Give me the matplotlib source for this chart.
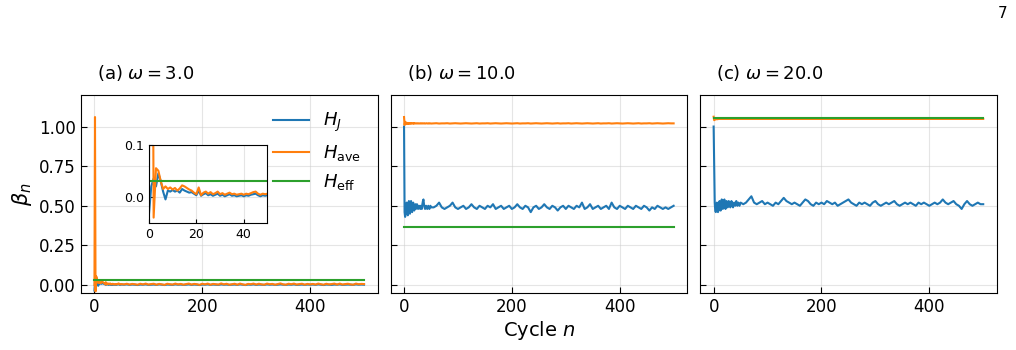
import numpy as np
import matplotlib.pyplot as plt

# cycle index: every cycle up to 50, then every 5th cycle
cycles = list(range(0, 51)) + list(range(55, 501, 5))

# (a) omega = 3.0
hj_a = [-0.035, 0.02, 0.035, 0.02, 0.045, 0.03, 0.01, -0.005, 0.012, 0.01,
        0.013, 0.01, 0.012, 0.008, 0.015, 0.012, 0.01, 0.008, 0.009, 0.006,
        0.003, 0.012, 0.002, 0.005, 0.007, 0.003, 0.005, 0.002, 0.004, 0.006,
        0.002, 0.004, 0.001, 0.003, 0.005, 0.002, 0.003, 0.001, 0.002, 0.003,
        0.001, 0.003, 0.002, 0.004, 0.005, 0.006, 0.003, 0.001, 0.003, 0.002,
        0.003,
        0.002, 0.004, 0.001, 0.003, 0.002, 0.000, 0.003, 0.002, 0.004, 0.001,
        0.002, 0.003, 0.001, 0.004, 0.002, 0.000, 0.003, 0.002, 0.001, 0.004,
        0.002, 0.003, 0.001, 0.002, 0.004, 0.001, 0.003, 0.002, 0.000, 0.003,
        0.002, 0.004, 0.001, 0.003, 0.002, 0.001, 0.004, 0.002, 0.003, 0.001,
        0.002, 0.003, 0.001, 0.004, 0.002, 0.000, 0.003, 0.002, 0.004, 0.001,
        0.003, 0.002, 0.001, 0.004, 0.002, 0.003, 0.001, 0.002, 0.004, 0.002,
        0.001, 0.003, 0.002, 0.004, 0.001, 0.002, 0.003, 0.001, 0.003, 0.002,
        0.003, 0.001, 0.004, 0.002, 0.000, 0.003, 0.002, 0.001, 0.003, 0.002,
        0.004, 0.001, 0.002, 0.003, 0.002, 0.001, 0.004, 0.002, 0.003, 0.002]
have_a = [0.0, 1.06, -0.04, 0.055, 0.05, 0.03, 0.015, 0.02, 0.015, 0.018,
          0.014, 0.017, 0.012, 0.016, 0.022, 0.02, 0.017, 0.014, 0.012, 0.008,
          0.005, 0.018, 0.003, 0.008, 0.01, 0.006, 0.009, 0.005, 0.007, 0.01,
          0.005, 0.007, 0.004, 0.006, 0.008, 0.005, 0.006, 0.004, 0.005, 0.006,
          0.004, 0.006, 0.005, 0.007, 0.009, 0.01, 0.006, 0.004, 0.006, 0.005,
          0.006,
          0.004, 0.008, 0.003, 0.007, 0.005, 0.002, 0.008, 0.004, 0.009, 0.003,
          0.006, 0.008, 0.002, 0.007, 0.004, 0.001, 0.008, 0.005, 0.003, 0.009,
          0.004, 0.007, 0.002, 0.006, 0.009, 0.003, 0.007, 0.005, 0.001, 0.008,
          0.004, 0.009, 0.002, 0.007, 0.005, 0.003, 0.010, 0.004, 0.008, 0.002,
          0.005, 0.008, 0.002, 0.009, 0.004, 0.001, 0.007, 0.005, 0.009, 0.003,
          0.008, 0.004, 0.002, 0.009, 0.005, 0.007, 0.002, 0.006, 0.010, 0.004,
          0.002, 0.008, 0.005, 0.009, 0.003, 0.006, 0.008, 0.002, 0.007, 0.004,
          0.007, 0.003, 0.009, 0.005, 0.002, 0.008, 0.004, 0.006, 0.009, 0.003,
          0.009, 0.003, 0.006, 0.008, 0.004, 0.002, 0.009, 0.005, 0.007, 0.006]
heff_a = 0.03

# (b) omega = 10.0
hj_b = [1.00, 0.46, 0.43, 0.45, 0.50, 0.52, 0.46, 0.44, 0.49, 0.53,
        0.48, 0.45, 0.50, 0.53, 0.49, 0.46, 0.50, 0.52, 0.48, 0.47,
        0.50, 0.51, 0.48, 0.49, 0.51, 0.50, 0.48, 0.49, 0.50, 0.49,
        0.48, 0.50, 0.49, 0.48, 0.51, 0.53, 0.54, 0.51, 0.49, 0.48,
        0.49, 0.50, 0.49, 0.48, 0.49, 0.50, 0.49, 0.48, 0.49, 0.50,
        0.49,
        0.49, 0.50, 0.52, 0.49, 0.48, 0.49, 0.50, 0.52, 0.49, 0.48,
        0.49, 0.50, 0.48, 0.49, 0.51, 0.49, 0.48, 0.50, 0.49, 0.48,
        0.50, 0.49, 0.51, 0.48, 0.49, 0.50, 0.48, 0.49, 0.50, 0.48,
        0.49, 0.51, 0.49, 0.48, 0.50, 0.49, 0.46, 0.49, 0.50, 0.48,
        0.49, 0.51, 0.49, 0.48, 0.50, 0.49, 0.47, 0.49, 0.50, 0.48,
        0.50, 0.49, 0.48, 0.50, 0.49, 0.52, 0.48, 0.49, 0.51, 0.48,
        0.49, 0.50, 0.48, 0.49, 0.50, 0.48, 0.52, 0.49, 0.48, 0.50,
        0.49, 0.48, 0.50, 0.49, 0.48, 0.50, 0.49, 0.48, 0.50, 0.49,
        0.47, 0.49, 0.48, 0.50, 0.49, 0.48, 0.49, 0.48, 0.49, 0.50]
have_b = [1.06, 1.01, 1.03, 1.015, 1.025, 1.02, 1.018, 1.023, 1.017, 1.022,
          1.019, 1.021, 1.018, 1.022, 1.019, 1.021, 1.02, 1.018, 1.022, 1.019,
          1.021, 1.02, 1.019, 1.021, 1.02, 1.019, 1.021, 1.02, 1.019, 1.02,
          1.021, 1.019, 1.02, 1.021, 1.019, 1.02, 1.02, 1.019, 1.021, 1.02,
          1.019, 1.02, 1.021, 1.02, 1.019, 1.02, 1.021, 1.019, 1.02, 1.02,
          1.019,
          1.02, 1.021, 1.019, 1.02, 1.02, 1.021, 1.019, 1.02, 1.021, 1.02,
          1.019, 1.02, 1.021, 1.02, 1.019, 1.02, 1.021, 1.019, 1.02, 1.02,
          1.021, 1.019, 1.02, 1.021, 1.02, 1.019, 1.02, 1.021, 1.02, 1.019,
          1.02, 1.021, 1.019, 1.02, 1.02, 1.021, 1.019, 1.02, 1.021, 1.02,
          1.019, 1.02, 1.021, 1.02, 1.019, 1.02, 1.021, 1.019, 1.02, 1.02,
          1.021, 1.019, 1.02, 1.021, 1.02, 1.019, 1.02, 1.021, 1.02, 1.019,
          1.02, 1.021, 1.019, 1.02, 1.02, 1.021, 1.019, 1.02, 1.021, 1.02,
          1.019, 1.02, 1.021, 1.02, 1.019, 1.02, 1.021, 1.019, 1.02, 1.02,
          1.021, 1.019, 1.02, 1.021, 1.02, 1.019, 1.02, 1.021, 1.02, 1.02]
heff_b = 0.368

# (c) omega = 20.0
hj_c = [1.00, 0.78, 0.52, 0.47, 0.46, 0.48, 0.52, 0.50, 0.46, 0.47,
        0.51, 0.53, 0.49, 0.47, 0.50, 0.54, 0.52, 0.48, 0.49, 0.53,
        0.54, 0.50, 0.48, 0.51, 0.53, 0.52, 0.49, 0.50, 0.53, 0.52,
        0.50, 0.49, 0.51, 0.53, 0.52, 0.50, 0.49, 0.51, 0.52, 0.51,
        0.50, 0.52, 0.53, 0.52, 0.50, 0.51, 0.52, 0.51, 0.50, 0.51,
        0.52,
        0.51, 0.52, 0.54, 0.56, 0.52, 0.51, 0.52, 0.53, 0.51, 0.52,
        0.51, 0.50, 0.52, 0.51, 0.53, 0.55, 0.53, 0.52, 0.51, 0.52,
        0.51, 0.50, 0.52, 0.54, 0.53, 0.51, 0.50, 0.52, 0.51, 0.52,
        0.51, 0.53, 0.52, 0.51, 0.52, 0.50, 0.51, 0.52, 0.53, 0.54,
        0.52, 0.51, 0.50, 0.52, 0.51, 0.52, 0.51, 0.50, 0.52, 0.53,
        0.51, 0.50, 0.51, 0.52, 0.51, 0.52, 0.53, 0.51, 0.50, 0.51,
        0.52, 0.51, 0.52, 0.51, 0.50, 0.52, 0.51, 0.52, 0.51, 0.50,
        0.51, 0.52, 0.51, 0.52, 0.54, 0.52, 0.51, 0.52, 0.53, 0.51,
        0.50, 0.48, 0.51, 0.53, 0.51, 0.50, 0.51, 0.52, 0.51, 0.51]
have_c = [1.062, 1.04, 1.048, 1.045, 1.047, 1.046, 1.048, 1.046, 1.047, 1.048] + [1.048] * 131
heff_c = 1.052

panels = [("(a) $\\omega = 3.0$", hj_a, have_a, heff_a),
          ("(b) $\\omega = 10.0$", hj_b, have_b, heff_b),
          ("(c) $\\omega = 20.0$", hj_c, have_c, heff_c)]

c_j, c_ave, c_eff = '#1f77b4', '#ff7f0e', '#2ca02c'

fig, axes = plt.subplots(1, 3, figsize=(10.16, 3.5), dpi=100, sharey=True)
fig.subplots_adjust(left=0.0797, right=0.981, top=0.729, bottom=0.163, wspace=0.044)

for ax, (title, hj, have, heff) in zip(axes, panels):
    ax.plot(cycles, hj, color=c_j, lw=1.5, label=r'$H_J$')
    ax.plot(cycles, have, color=c_ave, lw=1.5, label=r'$H_{\rm ave}$')
    ax.plot(cycles, [heff] * len(cycles), color=c_eff, lw=1.5, label=r'$H_{\rm eff}$')
    ax.set_ylim(-0.05, 1.2)
    ax.set_xticks([0, 200, 400])
    ax.set_yticks([0.0, 0.25, 0.5, 0.75, 1.0])
    ax.grid(True, color='#cccccc', alpha=0.5, lw=0.8)
    ax.tick_params(direction='in', labelsize=12, length=4)
    ax.text(0.054, 1.06, title, transform=ax.transAxes, fontsize=13, ha='left', va='bottom')

axes[0].set_ylabel(r'$\beta_n$', fontsize=15)
axes[0].legend(loc='upper right', frameon=False, fontsize=13, bbox_to_anchor=(1.0, 1.0))

# inset for panel (a)
ins = axes[0].inset_axes([0.229, 0.354, 0.40, 0.394])
ins.plot(cycles, hj_a, color=c_j, lw=1.5)
ins.plot(cycles, have_a, color=c_ave, lw=1.5)
ins.plot(cycles, [heff_a] * len(cycles), color=c_eff, lw=1.5)
ins.set_xlim(0, 50)
ins.set_ylim(-0.05, 0.1)
ins.set_xticks([0, 20, 40])
ins.set_yticks([0.0, 0.1])
ins.grid(True, color='#cccccc', alpha=0.5, lw=0.8)
ins.tick_params(direction='in', labelsize=9, length=3)

fig.text(0.5305, 0.055, r'Cycle $n$', fontsize=14, ha='center', va='center')
fig.text(0.987, 0.962, '7', fontsize=11, ha='center', va='center')

plt.savefig('out.png', dpi=100)
